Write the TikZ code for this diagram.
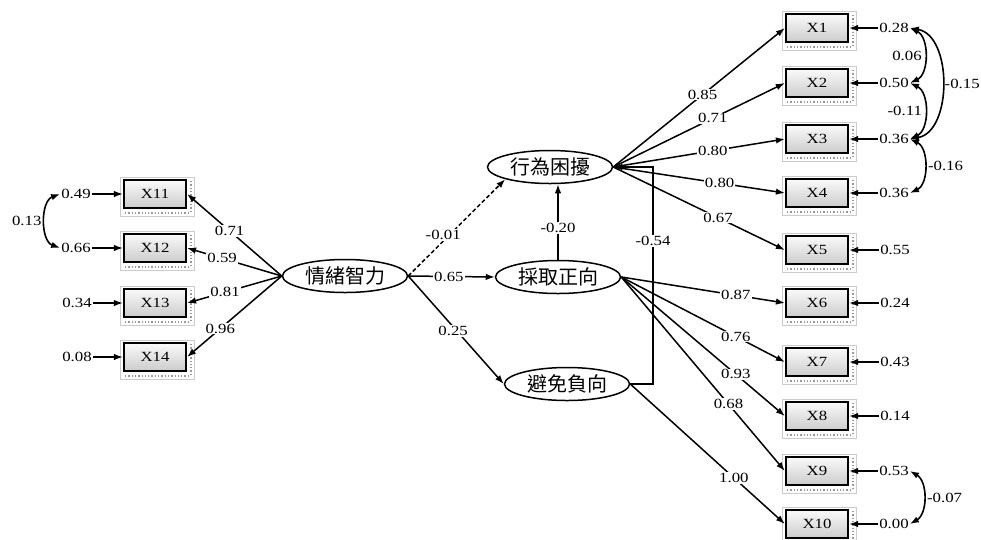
\documentclass[tikz,border=0pt]{standalone}
\usepackage{fontspec}
\setmainfont[FakeStretch=1.2]{Liberation Serif}
\newfontfamily\cjk{Noto Sans CJK TC}
\usetikzlibrary{shapes.geometric,arrows.meta}
\tikzset{
 lat/.style={ellipse, draw, line width=1.5pt, minimum width=125pt, minimum height=33pt, inner sep=0pt, font=\cjk\fontsize{20}{20}\selectfont},
 obsbox/.style={draw, line width=2.2pt, minimum width=62pt, minimum height=28pt, inner sep=0pt, top color=gray!4, bottom color=gray!40, font=\fontsize{14}{14}\selectfont},
 frm/.style={draw=gray!40, line width=0.6pt, fill=white},
 dts/.style={draw=gray!80, dotted, line width=1.3pt},
 err/.style={inner sep=1pt, font=\fontsize{14}{14}\selectfont},
 lbl/.style={fill=white, inner sep=1pt, font=\fontsize{14}{14}\selectfont},
 conn/.style={line width=1.5pt, -{Latex[length=9pt,width=6.5pt]}},
 cov/.style={line width=1.6pt, {Latex[length=9pt,width=6.5pt]}-{Latex[length=9pt,width=6.5pt]}},
}
\newcommand\obsnode[4]{%
  \draw[frm] (#2-35,#3-17) rectangle (#2+39,#3+22);
  \draw[dts] (#2-30,#3+19) -- (#2+33,#3+19);
  \draw[dts] (#2+36,#3-13) -- (#2+36,#3+17);
  \node[obsbox] (#1) at (#2,#3) {#4};}
\begin{document}
\begin{tikzpicture}[x=1pt,y=-1pt]
\useasboundingbox (0,0) rectangle (981,539);
% observed boxes
\obsnode{x1}{817}{28}{X1}
\obsnode{x2}{817}{83}{X2}
\obsnode{x3}{817}{139}{X3}
\obsnode{x4}{817}{193}{X4}
\obsnode{x5}{817}{250}{X5}
\obsnode{x6}{817}{303}{X6}
\obsnode{x7}{817}{362}{X7}
\obsnode{x8}{817}{416}{X8}
\obsnode{x9}{817}{471}{X9}
\obsnode{x10}{817}{524}{X10}
\obsnode{x11}{155}{194}{X11}
\obsnode{x12}{155}{248}{X12}
\obsnode{x13}{155}{303}{X13}
\obsnode{x14}{155}{357}{X14}
% latent
\node[lat] (ei) at (345,276) {情緒智力};
\node[lat] (bd) at (550,167) {行為困擾};
\node[lat] (ap) at (558,277) {採取正向};
\node[lat] (an) at (567,384) {避免負向};
% errors right
\node[err] (e1) at (894,28) {0.28};
\node[err] (e2) at (894,83) {0.50};
\node[err] (e3) at (894,139) {0.36};
\node[err] (e4) at (894,193) {0.36};
\node[err] (e5) at (895,250) {0.55};
\node[err] (e6) at (895,303) {0.24};
\node[err] (e7) at (895,362) {0.43};
\node[err] (e8) at (895,416) {0.14};
\node[err] (e9) at (894,471) {0.53};
\node[err] (e10) at (894,524) {0.00};
% errors left
\node[err] (e11) at (76,194) {0.49};
\node[err] (e12) at (76,248) {0.66};
\node[err] (e13) at (77,303) {0.34};
\node[err] (e14) at (77,357) {0.08};
\foreach \i in {1,...,10} {\draw[conn] (e\i.west) -- (x\i.east);}
\foreach \i in {11,...,14} {\draw[conn] (e\i.east) -- (x\i.west);}
% covariances
\draw[cov] (e11.west) to[bend right=70] node[err, left=2pt] {0.13} (e12.west);
\draw[cov] (e1.east) to[bend left=65] node[err, left=1pt] {0.06} (e2.east);
\draw[cov] (e2.east) to[bend left=65] node[err, left=1pt] {-0.11} (e3.east);
\draw[cov] (e1.east) to[bend left=80] node[err, right=1pt] {-0.15} (e3.east);
\draw[cov] (e3.east) to[bend left=65] node[err, right=2pt] {-0.16} (e4.east);
\draw[cov] (e9.east) to[bend left=60] node[err, right=2pt] {-0.07} (e10.east);
% structural paths
\draw[conn, dash pattern=on 4pt off 2.5pt] (ei.east) -- node[pos=0.36, lbl, yshift=6pt] {-0.01} (bd.south west);
\draw[conn] (ei.east) -- node[pos=0.47, lbl] {0.65} (ap.west);
\draw[conn] (ei.east) -- node[pos=0.47, lbl, yshift=-4pt] {0.25} (an.west);
\draw[conn] (ap.north) -- node[pos=0.42, lbl] {-0.20} (ap.north |- bd.south);
\coordinate (k) at (653,384);
\draw[conn] (an.east) -- (k) |- node[pos=0.33, lbl] {-0.54} (bd.east);
% loadings
\draw[conn] (bd.east) -- node[pos=0.52, lbl] {0.85} (x1.west);
\draw[conn] (bd.east) -- node[pos=0.58, lbl] {0.71} (x2.west);
\draw[conn] (bd.east) -- node[pos=0.58, lbl] {0.80} (x3.west);
\draw[conn] (bd.east) -- node[pos=0.62, lbl] {0.80} (x4.west);
\draw[conn] (bd.east) -- node[pos=0.61, lbl] {0.67} (x5.west);
\draw[conn] (ap.east) -- node[pos=0.70, lbl] {0.87} (x6.west);
\draw[conn] (ap.east) -- node[pos=0.70, lbl] {0.76} (x7.west);
\draw[conn] (ap.east) -- node[pos=0.70, lbl] {0.93} (x8.west);
\draw[conn] (ap.east) -- node[pos=0.655, lbl] {0.68} (x9.west);
\draw[conn] (an.east) -- node[pos=0.67, lbl] {1.00} (x10.west);
\draw[conn] (ei.west) -- node[pos=0.55, lbl] {0.71} (x11.east);
\draw[conn] (ei.west) -- node[pos=0.63, lbl] {0.59} (x12.east);
\draw[conn] (ei.west) -- node[pos=0.60, lbl] {0.81} (x13.east);
\draw[conn] (ei.west) -- node[pos=0.65, lbl] {0.96} (x14.east);
\end{tikzpicture}
\end{document}
